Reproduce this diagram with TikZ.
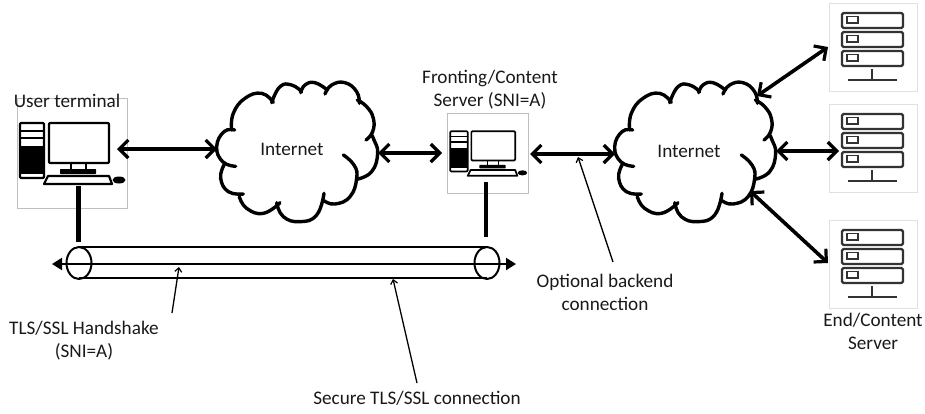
\documentclass[tikz,border=0pt]{standalone}
\usepackage{fontspec}
\setmainfont{Carlito}
\usetikzlibrary{arrows.meta}
\definecolor{srv}{HTML}{333333}
\tikzset{
  x=1pt,y=-1pt,
  lbl/.style={align=center,inner sep=0pt,font=\fontsize{19.2}{23}\selectfont,text=black!90},
  link/.style={line width=3.6pt,{Straight Barb[length=9pt,width=18pt,line width=3.2pt]}-{Straight Barb[length=9pt,width=18pt,line width=3.2pt]}},
  thin arrow/.style={line width=1.3pt,-{Straight Barb[length=4pt,width=7pt,line width=1.2pt]}},
  stub/.style={line width=4.4pt},
  tube/.style={line width=2pt},
  iconbox/.style={draw=black!25,line width=.8pt,minimum width=#1,minimum height=#1,inner sep=0pt},
  srvbox/.style={draw=black!12,line width=.8pt,minimum width=88pt,minimum height=88pt,inner sep=0pt},
}
% computer icon: #1 #2 position, #3 scale, #4 line width
\newcommand{\compicon}[4]{%
  \begin{scope}[shift={(#1,#2)},scale=#3,line width=#4pt,line join=round]
    \draw[fill=white,rounded corners=1pt] (3,25) rectangle (27,80);
    \fill[black] (3,48) rectangle (27,76);
    \fill[black] (3,31.5) rectangle (27,33.5);
    \fill[black] (3,39) rectangle (27,41);
    \draw[rounded corners=1pt] (32,25) rectangle (92,65);
    \draw (54,65) -- (54,71) (69,65) -- (69,71);
    \fill[rounded corners=.6pt] (43,71) rectangle (79,76);
    \draw[fill=white] (31,78) -- (92,78) -- (95,86) -- (27,86) -- cycle;
    \fill (102,82) ellipse [x radius=6.5,y radius=3.5];
  \end{scope}}
% server icon
\newcommand{\srvicon}[2]{%
  \begin{scope}[shift={(#1,#2)},draw=srv,line width=2.2pt]
    \foreach \t in {10,29,48}{
      \draw[rounded corners=1.5pt] (13,\t) rectangle (74,\t+15);
      \draw[line width=1.7pt] (18,\t+3.5) rectangle (29,\t+10);
    }
    \draw (43,66) -- (43,77);
    \draw (19,77) -- (68,77);
  \end{scope}}
% cloud outline
\newcommand{\cloudshape}[2]{%
  \begin{scope}[shift={(#1,#2)},scale=1/3,line width=3.4pt,line cap=round]
    \draw plot[smooth,tension=.8] coordinates {(104,240)(72,245)(50,290)(68,335)(107,349)};
    \draw plot[smooth,tension=.8] coordinates {(72,345)(62,385)(85,425)(130,432)};
    \draw plot[smooth,tension=.8] coordinates {(118,440)(140,475)(190,490)(240,458)};
    \draw plot[smooth,tension=.8] coordinates {(230,458)(250,500)(300,515)(350,495)(372,430)};
    \draw plot[smooth,tension=.8] coordinates {(430,315)(462,345)(470,385)(450,440)(405,462)(372,452)};
    \draw plot[smooth,tension=.8] coordinates {(470,388)(515,365)(533,310)(522,270)(515,255)};
    \draw plot[smooth,tension=.8] coordinates {(498,270)(518,245)(520,205)(500,170)(472,150)};
    \draw plot[smooth,tension=.8] coordinates {(478,160)(470,125)(435,98)(395,105)(375,132)};
    \draw plot[smooth,tension=.8] coordinates {(382,120)(345,98)(315,105)(302,128)};
    \draw plot[smooth,tension=.8] coordinates {(305,125)(275,105)(240,110)(215,158)};
    \draw plot[smooth,tension=.8] coordinates {(220,157)(185,130)(135,145)(100,190)(95,240)};
  \end{scope}}
\begin{document}
\begin{tikzpicture}
\useasboundingbox (0,0) rectangle (925,413);
% boxes
\node[iconbox=110pt] (term) at (72,153.5) {};
\node[iconbox=80.5pt] (front) at (488,153.5) {};
\node[srvbox] (s1) at (873,47) {};
\node[srvbox] (s2) at (873,148.5) {};
\node[srvbox] (s3) at (873,264) {};
\compicon{17}{98}{1}{2.2}
\compicon{448}{113}{0.73}{1.7}
\srvicon{829}{3}
\srvicon{829}{104}
\srvicon{829}{220}
% clouds
\cloudshape{200}{50}
\cloudshape{598}{50}
\node[lbl] (inet1) at (292,149) {Internet};
\node[lbl] (inet2) at (689,151) {Internet};
% tube
\coordinate (tl) at (79,247); \coordinate (tr) at (487,247);
\coordinate (bl) at (79,278); \coordinate (br) at (487,278);
\coordinate (ml) at (52,264); \coordinate (mr) at (516,264);
\coordinate (el) at (79,263); \coordinate (er) at (487,263);
\draw[tube] (tl) -- (tr);
\draw[tube] (bl) -- (br);
\draw[tube,{Triangle[length=10pt,width=12pt]}-{Triangle[length=10pt,width=12pt]}] (ml) -- (mr);
\draw[tube] (el) ellipse [x radius=12.5,y radius=16];
\draw[tube] (er) ellipse [x radius=12.5,y radius=16];
% stubs
\coordinate (tstub) at (78.5,186); \coordinate (tstube) at (78.5,242);
\coordinate (fstub) at (486,182);  \coordinate (fstube) at (486,237);
\draw[stub] (tstub) -- (tstube);
\draw[stub] (fstub) -- (fstube);
% links
\coordinate (a1) at (117,149); \coordinate (a2) at (217,149);
\coordinate (b1) at (378,153); \coordinate (b2) at (442,153);
\coordinate (c1) at (530,154); \coordinate (c2) at (615,154);
\coordinate (d1) at (757,96);  \coordinate (d2) at (828,47);
\coordinate (e1) at (776,151); \coordinate (e2) at (839,151);
\coordinate (f1) at (750,191); \coordinate (f2) at (828,263);
\draw[link] (a1) -- (a2);
\draw[link] (b1) -- (b2);
\draw[link] (c1) -- (c2);
\draw[link] (d1) -- (d2);
\draw[link] (e1) -- (e2);
\draw[link] (f1) -- (f2);
% labels
\node[lbl] (lterm) at (67,101) {User terminal};
\node[lbl] (lfront) at (490,89.5) {Fronting/Content\\Server (SNI=A)};
\node[lbl] (lend) at (873,331.5) {End/Content\\Server};
\node[lbl] (lhand) at (84,341) {TLS/SSL Handshake\\(SNI=A)};
\node[lbl] (lsec) at (417,398) {Secure TLS/SSL connection};
\node[lbl] (lopt) at (605,292.5) {Optional backend\\connection};
% pointers
\coordinate (p1) at (172,313); \coordinate (p1e) at (179,267);
\coordinate (p2) at (417,383); \coordinate (p2e) at (393,279);
\coordinate (p3) at (613,262); \coordinate (p3e) at (578,157);
\draw[thin arrow] (p1) -- (p1e);
\draw[thin arrow] (p2) -- (p2e);
\draw[thin arrow] (p3) -- (p3e);
\end{tikzpicture}
\end{document}
